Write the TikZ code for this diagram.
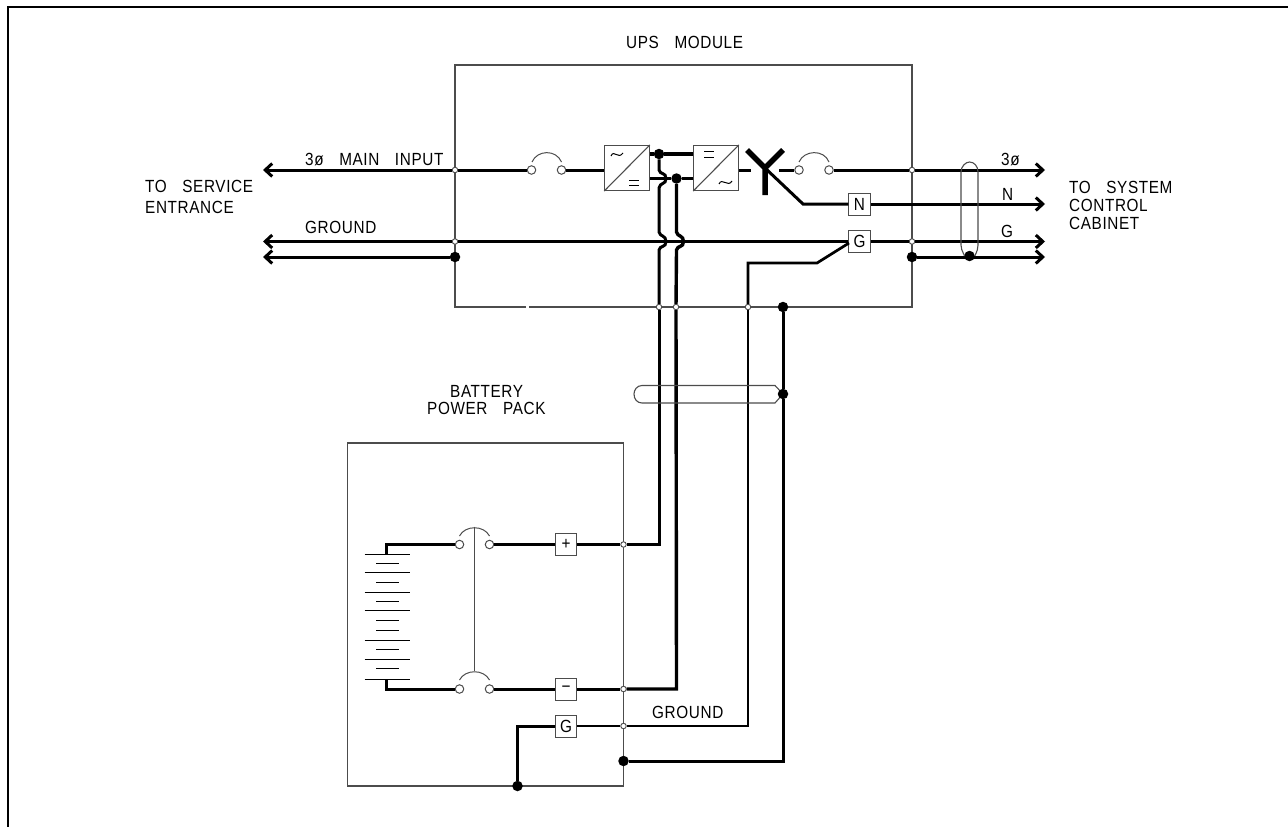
\documentclass[tikz,border=0pt]{standalone}
\usepackage{fontspec}
\setmainfont[FakeStretch=0.87,WordSpace=3.2,LetterSpace=3.5]{Liberation Sans}
\usetikzlibrary{arrows.meta}
\definecolor{thin}{gray}{0.3}
\tikzset{
  x=1pt,y=-1pt,
  lbl/.style={anchor=base west,inner sep=0pt,font=\fontsize{17.6}{20}\selectfont},
  frame/.style={draw=thin,line width=1.1pt},
  wire/.style={draw=black,line width=3pt,line join=miter},
  fine/.style={draw=black,line width=2.7pt},
  arr/.style={-{Straight Barb[length=7pt,width=13pt,line width=3pt]}},
  larr/.style={{Straight Barb[length=7pt,width=13pt,line width=3pt]}-},
  opennode/.style={circle,draw=thin,fill=white,line width=0.9pt,minimum size=5.5pt,inner sep=0pt},
  fusept/.style={circle,draw=thin,fill=white,line width=1pt,minimum size=8.5pt,inner sep=0pt},
  soliddot/.style={circle,fill=black,minimum size=10.5pt,inner sep=0pt},
  termbox/.style={rectangle,draw=thin,fill=white,line width=1pt,minimum width=21.5pt,minimum height=22pt,inner sep=0pt,font=\fontsize{17.6}{20}\selectfont},
  convbox/.style={rectangle,draw=thin,fill=white,line width=1.1pt,minimum width=44.5pt,minimum height=45pt,inner sep=0pt},
  sym/.style={draw=black,line width=1pt},
  plate/.style={draw=black,line width=1pt}
}
\begin{document}
\begin{tikzpicture}
\useasboundingbox (0,0) rectangle (1288,827);
% sheet border
\draw[black,line width=2pt] (7.5,827) -- (7.5,6.5) -- (1288,6.5);
% module frames
\node[frame,rectangle,minimum width=457pt,minimum height=242pt,inner sep=0pt] (ups) at (683.5,186) {};
\draw[white,line width=2pt] (526,307) -- (528.5,307);
\node[frame,rectangle,minimum width=275.5pt,minimum height=343pt,inner sep=0pt] (bat) at (485.5,614.5) {};
% texts
\node[lbl] (tUps) at (626,48) {UPS MODULE};
\node[lbl] (tSvc1) at (145,192) {TO SERVICE};
\node[lbl] (tSvc2) at (145,213) {ENTRANCE};
\node[lbl] (tMain) at (305,165) {3ø MAIN INPUT};
\node[lbl] (tGnd1) at (305,233) {GROUND};
\node[lbl] (tSys1) at (1069,193) {TO SYSTEM};
\node[lbl] (tSys2) at (1069,211) {CONTROL};
\node[lbl] (tSys3) at (1069,229.5) {CABINET};
\node[lbl] (t3p) at (1001,165) {3ø};
\node[lbl] (tN) at (1002,200.5) {N};
\node[lbl] (tG) at (1001,237) {G};
\node[lbl] (tBat1) at (450,397) {BATTERY};
\node[lbl] (tBat2) at (427,414.5) {POWER PACK};
\node[lbl] (tGnd2) at (652,718) {GROUND};
% junctions
\node[opennode] (jM) at (455,170) {};
\node[opennode] (jG) at (455,241.5) {};
\node[soliddot] (dL) at (455,257) {};
\node[opennode] (jOut) at (912,170) {};
\node[opennode] (jGr) at (912,241.5) {};
\node[soliddot] (dR) at (912,257) {};
\node[soliddot] (dCab) at (969.5,256) {};
\node[opennode] (jP) at (659,307) {};
\node[opennode] (jQ) at (676,307) {};
\node[opennode] (jR) at (748,307) {};
\node[soliddot] (dS) at (783,307) {};
\node[soliddot] (dT) at (783,394) {};
\node[opennode] (jBp) at (623.5,544.5) {};
\node[opennode] (jBm) at (623.5,689) {};
\node[opennode] (jBg) at (623.5,726) {};
\node[soliddot] (dBg) at (623.5,761) {};
\node[soliddot] (dBb) at (517.5,786) {};
% converters
\node[convbox] (c1) at (627,168) {};
\node[convbox] (c2) at (716,168) {};
\draw[frame] (c1.south west) -- (c1.north east);
\draw[frame] (c2.south west) -- (c2.north east);
\draw[sym] (611,156) .. controls (614,149) and (618,160) .. (623,153);
\draw[sym] (629,180) -- (639,180) (629,185) -- (639,185);
\draw[sym] (704,151) -- (714,151) (704,157) -- (714,157);
\draw[sym] (719,184) .. controls (722,177) and (728,188) .. (732,181);
\node[soliddot] (dA) at (659,154) {};
\node[soliddot] (dB) at (676.5,178.5) {};
% fuses
\node[fusept] (f1a) at (531.5,170) {};
\node[fusept] (f1b) at (561.5,170) {};
\node[fusept] (f2a) at (799,170) {};
\node[fusept] (f2b) at (829,170) {};
\node[fusept] (f3a) at (459.5,544.5) {};
\node[fusept] (f3b) at (489.5,544.5) {};
\node[fusept] (f4a) at (459.5,689) {};
\node[fusept] (f4b) at (489.5,689) {};
\draw[sym,draw=thin] (532,162) .. controls (537,150) and (556,149) .. (561.5,162);
\draw[sym,draw=thin] (799,162) .. controls (804,150) and (824,149) .. (829,162);
\draw[sym,draw=thin] (459.5,536) .. controls (465,525) and (484,525) .. (489.5,536);
\draw[sym,draw=thin] (459.5,680) .. controls (465,669) and (484,669) .. (489.5,680);
\draw[frame] (474.7,526.5) -- (474.7,670.5);
% terminal boxes
\node[termbox] (bN) at (859.5,204) {N};
\node[termbox] (bG) at (859.5,241.5) {G};
\node[termbox] (bP) at (566,544.5) {+};
\node[termbox] (bM) at (566,689) {−};
\node[termbox] (bGb) at (566,726) {G};
% free ends
\coordinate (aML) at (263,170);
\coordinate (aGL) at (263,241.5);
\coordinate (aBL) at (263,257);
\coordinate (aOut) at (1045,170);
\coordinate (aN) at (1045,204);
\coordinate (aGR) at (1045,241.5);
\coordinate (aBR) at (1045,257);
\coordinate (yc) at (765,168);
\coordinate (yl) at (747,150);
\coordinate (yr) at (783,150);
\coordinate (yb) at (765,195);
\coordinate (nb) at (803,204);
\coordinate (gt) at (849,243);
\coordinate (gb) at (817,263);
\coordinate (gc) at (748,263);
% input / output wires
\draw[wire,larr] (aML) -- (jM);
\draw[wire] (jM) -- (f1a);
\draw[wire] (f1b) -- (c1.west |- f1b);
\draw[wire,line width=3.8pt,larr] (aGL) -- (jG);
\draw[wire,line width=3.8pt] (jG) -- (bG);
\draw[wire,larr] (aBL) -- (dL);
\draw[wire] (bG) -- (jGr);
\draw[wire,arr] (jGr) -- (aGR);
\draw[wire,arr] (dR) -- (aBR);
\draw[wire] (f2b) -- (jOut);
\draw[wire,arr] (jOut) -- (aOut);
% inverter output and static switch
\draw[wire] (c2.east |- f2a) -- (751,170);
\draw[wire] (779,170) -- (f2a);
\draw[black,line width=5.5pt] (yl) -- (yc) -- (yr) (yc) -- (yb);
\draw[wire] (yc) -- (nb) -- (bN);
\draw[wire,arr] (bN) -- (aN);
% DC bus
\draw[wire,line width=3.8pt] (c1.east |- dA) -- (dA) -- (c2.west |- dA);
\draw[fine] (c1.east |- dB) -- (dB) -- (c2.west |- dB);
% battery feeds with jumps
\draw[wire] (dA) -- (659,170) .. controls (660,175) and (666,172) .. (666,178.5) .. controls (666,185) and (660,182) .. (659,188) -- (659,232) .. controls (660,237) and (666,235) .. (666,241.5) .. controls (666,248) and (660,245) .. (659,250) -- (jP);
\draw[wire,line width=3.4pt] (dB) -- (676.5,232) .. controls (677.5,237) and (683.5,235) .. (683.5,241.5) .. controls (683.5,248) and (677.5,245) .. (676.5,250) -- (jQ);
\draw[wire] (jP) -- (659,544.5) -- (jBp);
\draw[wire,line width=3.4pt] (jQ) -- (676.5,689) -- (jBm);
\draw[fine] (jBp) -- (bP) (bP) -- (f3b);
\draw[wire] (jBm) -- (bM) (bM) -- (f4b);
% ground wires
\draw[fine] (gt) -- (gb) -- (gc) -- (jR);
\draw[fine] (jR) -- (748,726) -- (jBg);
\draw[fine] (jBg) -- (bGb);
\draw[wire] (bGb) -- (517.5,726) -- (dBb);
\draw[wire] (dS) -- (dT);
\draw[wire] (dT) -- (783,761) -- (dBg);
% battery
\draw[wire] (f3a) -- (386,544.5) -- (386,554);
\draw[wire] (f4a) -- (386,689) -- (386,679);
\foreach \y in {554,572.3,592.3,610.7,640.3,659,679} \draw[plate] (364.5,\y) -- (409.5,\y);
\foreach \y in {563.3,582.3,601.3,620.7,630,649.3,668.7} \draw[plate] (376,\y) -- (399,\y);
% cables
\draw[frame] (dCab) .. controls (966,256) and (961,252) .. (961,245) -- (961,172) .. controls (961,166) and (966,162) .. (969.5,162) .. controls (974,162) and (978,166) .. (978,172) -- (978,245) .. controls (978,252) and (974,256) .. (dCab);
\draw[frame] (dT) -- (775,385.5) -- (642,385.5) .. controls (637,385.5) and (634,390) .. (634,394) .. controls (634,399) and (637,403) .. (642,403) -- (775,403) -- (dT);
\end{tikzpicture}
\end{document}
